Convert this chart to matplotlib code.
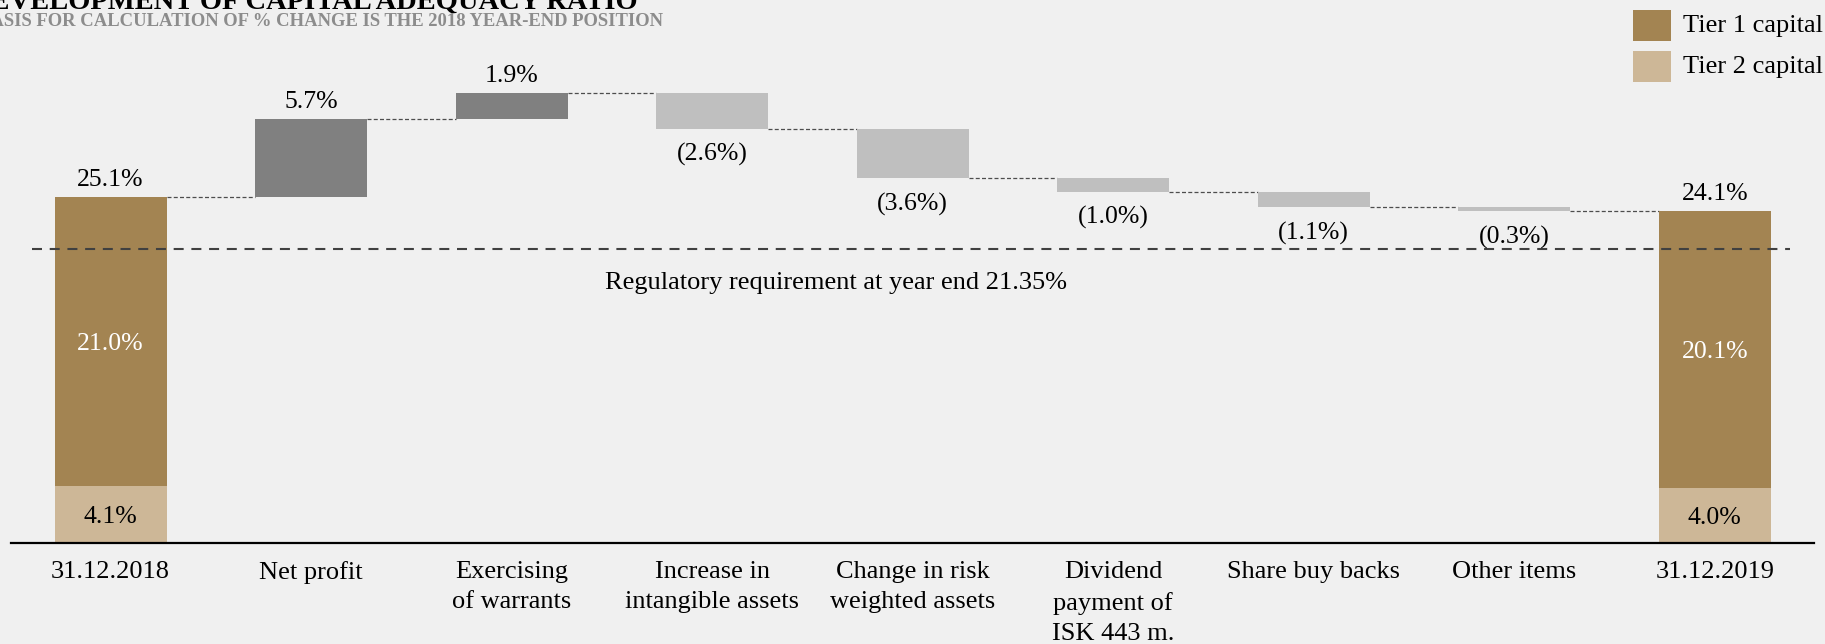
import numpy as np
import matplotlib
matplotlib.use("Agg")
import matplotlib.pyplot as plt
from matplotlib.patches import Rectangle

plt.rcParams["font.family"] = ["Liberation Serif", "DejaVu Serif"]

# ---- data -------------------------------------------------------------
categories = [
    "31.12.2018",
    "Net profit",
    "Exercising\nof warrants",
    "Increase in\nintangible assets",
    "Change in risk\nweighted assets",
    "Dividend\npayment of\nISK 443 m.",
    "Share buy backs",
    "Other items",
    "31.12.2019",
]
tier1 = [21.0, 20.1]          # opening / closing Tier 1 capital ratio (%)
tier2 = [4.1, 4.0]            # opening / closing Tier 2 capital ratio (%)
changes = [5.7, 1.9, -2.6, -3.6, -1.0, -1.1, -0.3]
requirement = 21.35
legend_labels = ["Tier 1 capital", "Tier 2 capital"]
title = "DEVELOPMENT OF CAPITAL ADEQUACY RATIO"
subtitle = "BASIS FOR CALCULATION OF % CHANGE IS THE 2018 YEAR-END POSITION"

# ---- style ------------------------------------------------------------
BG = "#F0F0F0"
T1 = "#A38452"
T2 = "#CDB797"
POS = "#808080"
NEG = "#BFBFBF"

W, H, DPI = 1825, 644, 100
fig = plt.figure(figsize=(W / DPI, H / DPI), dpi=DPI, facecolor=BG)
ax = fig.add_axes([10.95 / W, 101.3 / H, 1803.2 / W, (542.7 - 61.1) / H])
ax.set_facecolor(BG)

x = np.arange(len(categories))
width = 0.558

start_total = tier1[0] + tier2[0]
end_total = tier1[1] + tier2[1]
levels = start_total + np.cumsum(changes)
prev = np.concatenate([[start_total], levels[:-1]])
bottoms = np.minimum(prev, levels)
heights = np.abs(changes)
colors = [POS if c > 0 else NEG for c in changes]

ends = x[[0, -1]]
ax.bar(ends, tier2, width, color=T2, zorder=2)
ax.bar(ends, tier1, width, bottom=tier2, color=T1, zorder=2)
ax.bar(x[1:-1], heights, width, bottom=bottoms, color=colors, zorder=2)

# connectors between consecutive bars
all_levels = np.concatenate([[start_total], levels])
for i in range(len(x) - 1):
    lv = all_levels[i]
    ax.plot([x[i] + width / 2, x[i + 1] - width / 2], [lv, lv],
            color="#4d4d4d", lw=0.9, ls=(0, (3.2, 1.8)), zorder=1)

# regulatory requirement line
ax.plot([-0.394, 8.376], [requirement, requirement], color="#404040",
        lw=1.5, ls=(0, (4.8, 3.7)), zorder=3)
ax.annotate(f"Regulatory requirement at year end {requirement:.2f}%",
            (3.62, requirement), xytext=(0, -34), textcoords="offset pixels",
            ha="center", va="center", fontsize=19)

# labels
lab_fs = 18.5
for xi, total in zip(ends, [start_total, end_total]):
    ax.annotate(f"{total:.1f}%", (xi, total), xytext=(0, 17),
                textcoords="offset pixels", ha="center", va="center",
                fontsize=lab_fs)
for xi, t1, t2 in zip(ends, tier1, tier2):
    ax.text(xi, t2 + t1 / 2, f"{t1:.1f}%", ha="center",
            va="center_baseline", color="white", fontsize=lab_fs, zorder=4)
    ax.text(xi, t2 / 2, f"{t2:.1f}%", ha="center", va="center_baseline",
            color="black", fontsize=lab_fs, zorder=4)
for xi, c, b in zip(x[1:-1], changes, bottoms):
    if c > 0:
        ax.annotate(f"{c:.1f}%", (xi, b + c), xytext=(0, 17),
                    textcoords="offset pixels", ha="center", va="center",
                    fontsize=lab_fs)
    else:
        ax.annotate(f"({abs(c):.1f}%)", (xi, b), xytext=(0, -26),
                    textcoords="offset pixels", ha="center", va="center",
                    fontsize=lab_fs)

# axes
ax.axhline(0, color="black", lw=1.6, clip_on=False, zorder=5)
ax.set_xlim(-0.497, 8.496)
ax.set_ylim(0, 35)
ax.set_yticks([])
ax.set_xticks(x, categories)
ax.tick_params(axis="x", length=0, pad=13, labelsize=19)
for lbl in ax.get_xticklabels():
    lbl.set_linespacing(1.5)
for s in ax.spines.values():
    s.set_visible(False)

# legend
for k, (lab, col) in enumerate(zip(legend_labels, [T1, T2])):
    top = 10 + k * 41
    fig.add_artist(Rectangle((1633 / W, 1 - (top + 30.5) / H), 38 / W,
                             30.5 / H, transform=fig.transFigure,
                             facecolor=col, edgecolor="none"))
    fig.text(1682.7 / W, 1 - (top + 16) / H, lab, ha="left", va="center",
             fontsize=19)

# headings
fig.text(638 / W, 1 - 9 / H, title, ha="right", va="baseline",
         fontsize=20.5, fontweight="bold", color="black")
fig.text(663 / W, 1 - 26.5 / H, subtitle, ha="right", va="baseline",
         fontsize=13.4, fontweight="bold", color="#8C8C8C")

fig.savefig("out.png", dpi=DPI, facecolor=BG)
